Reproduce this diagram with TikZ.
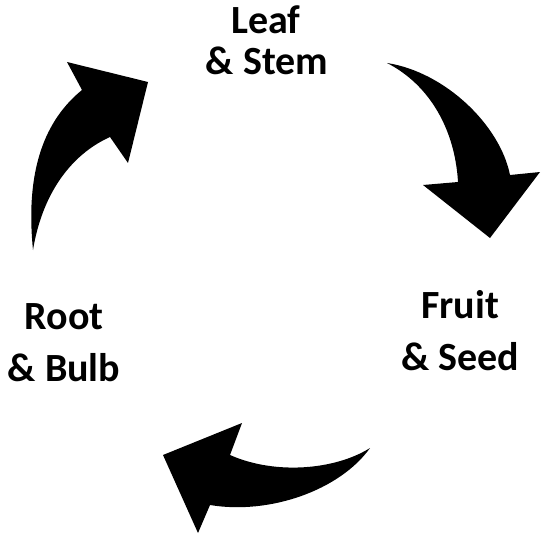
\documentclass[tikz,border=0pt]{standalone}
\usepackage{fontspec}
\setmainfont{Carlito}
\begin{document}
\begin{tikzpicture}[x=1pt,y=-1pt,
  lbl/.style={anchor=base,inner sep=0pt,font=\fontsize{40}{46}\selectfont\bfseries},
  cyclearrow/.style={fill=black,draw=none}]
\useasboundingbox[fill=white] (0,0) rectangle (540,540);
% labels
\node[lbl] (leafA) at (266,34) {Leaf};
\node[lbl] (leafB) at (267,75) {\& Stem};
\node[lbl] (fruitA) at (460,318) {Fruit};
\node[lbl] (fruitB) at (460,370) {\& Seed};
\node[lbl] (rootA) at (64,329) {Root};
\node[lbl] (rootB) at (64,381) {\& Bulb};
% upper-left arrow (Root -> Leaf)
\fill[cyclearrow] (33,250) .. controls (25,170) and (45,120) .. (82,90)
  -- (67,62) -- (148,82) -- (128,163) -- (110,137)
  .. controls (70,155) and (42,195) .. (33,250) -- cycle;
% upper-right arrow (Leaf -> Fruit)
\fill[cyclearrow] (387,63) .. controls (445,72) and (500,125) .. (510,175)
  -- (540,172) -- (490,238) -- (423,185) -- (458,182)
  .. controls (455,130) and (430,85) .. (387,63) -- cycle;
% bottom arrow (Fruit -> Root)
\fill[cyclearrow] (370,448) .. controls (335,470) and (275,475) .. (230,455)
  -- (242,423) -- (163,455) -- (198,533) -- (210,505)
  .. controls (270,515) and (340,490) .. (370,448) -- cycle;
\end{tikzpicture}
\end{document}
